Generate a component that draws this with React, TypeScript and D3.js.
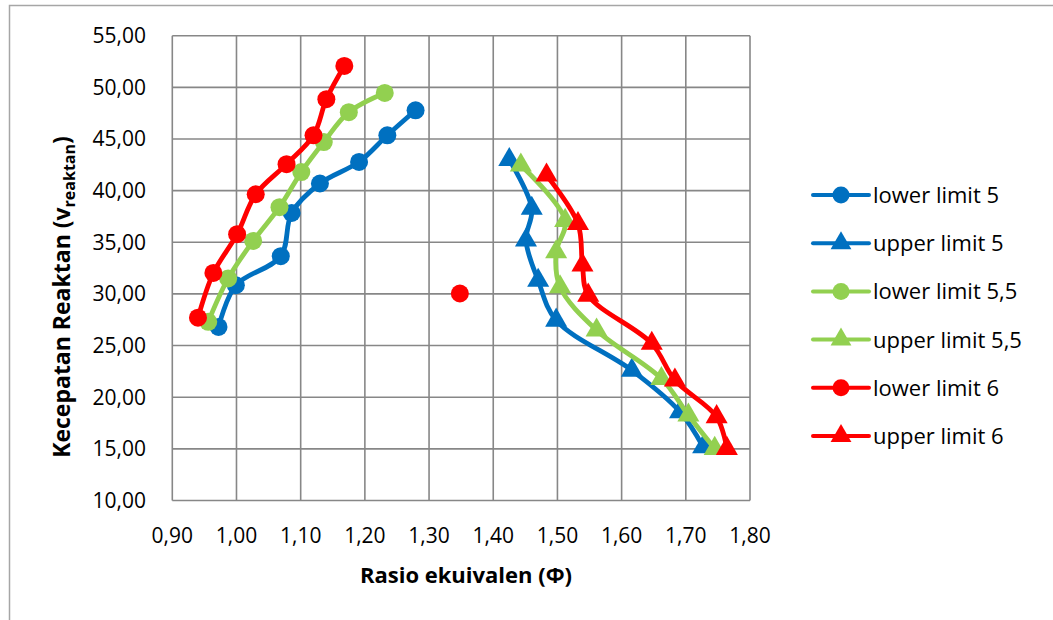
import React from "react";
import * as d3 from "d3";

// Rasio ekuivalen (phi) vs kecepatan reaktan
const lower5: [number, number][] = [
  [0.972, 26.8], [0.999, 30.84], [1.069, 33.65], [1.086, 37.84],
  [1.13, 40.69], [1.191, 42.78], [1.235, 45.36], [1.279, 47.78],
];
const upper5: [number, number][] = [
  [1.425, 43.0], [1.46, 38.27], [1.451, 35.2], [1.47, 31.3],
  [1.498, 27.45], [1.616, 22.6], [1.691, 18.58], [1.727, 15.19],
];
const lower55: [number, number][] = [
  [0.956, 27.3], [0.987, 31.5], [1.026, 35.13], [1.067, 38.4],
  [1.101, 41.8], [1.136, 44.7], [1.175, 47.6], [1.231, 49.46],
];
const upper55: [number, number][] = [
  [1.443, 42.46], [1.512, 37.1], [1.498, 34.07], [1.504, 30.68],
  [1.561, 26.49], [1.662, 21.8], [1.704, 18.26], [1.745, 15.03],
];
const lower6: [number, number][] = [
  [0.94, 27.7], [0.964, 32.03], [1.001, 35.78], [1.03, 39.65],
  [1.078, 42.56], [1.12, 45.36], [1.14, 48.85], [1.168, 52.07],
];
const upper6: [number, number][] = [
  [1.483, 41.5], [1.532, 36.8], [1.539, 32.78], [1.548, 29.87],
  [1.647, 25.2], [1.683, 21.65], [1.748, 18.1], [1.764, 15.03],
];
// lone point with no legend entry
const strayPoint: [number, number][] = [[1.348, 30.04]];

const seriesNames = [
  "lower limit 5", "upper limit 5",
  "lower limit 5,5", "upper limit 5,5",
  "lower limit 6", "upper limit 6",
];
const seriesData = [lower5, upper5, lower55, upper55, lower6, upper6];
const seriesColors = ["#0070C0", "#0070C0", "#92D050", "#92D050", "#FF0000", "#FF0000"];
const seriesShapes = ["circle", "triangle", "circle", "triangle", "circle", "triangle"];

const xTicks = [0.9, 1.0, 1.1, 1.2, 1.3, 1.4, 1.5, 1.6, 1.7, 1.8];
const yTicks = [10, 15, 20, 25, 30, 35, 40, 45, 50, 55];

const W = 1053;
const H = 620;
const FONT = "'Open Sans', sans-serif";
const GRID = "#878787";

const fmt = (v: number) => d3.format(".2f")(v).replace(".", ",");

function Marker({ shape, x, y, color, size }: { shape: string; x: number; y: number; color: string; size: number }) {
  if (shape === "circle") return <circle cx={x} cy={y} r={size} fill={color} />;
  const tri = d3.symbol().type(d3.symbolTriangle).size(size * size * 2.6)();
  return <path d={tri || ""} transform={`translate(${x},${y})`} fill={color} />;
}

const App = () => {
  const x = d3.scaleLinear().domain([0.9, 1.8]).range([172.3, 750]);
  const y = d3.scaleLinear().domain([10, 55]).range([500.5, 35.7]);

  const line = d3
    .line<[number, number]>()
    .x((d) => x(d[0]))
    .y((d) => y(d[1]))
    .curve(d3.curveCatmullRom.alpha(0.5));

  const legendY = d3.scaleLinear().domain([0, 5]).range([195, 436]);

  return (
    <svg width={W} height={H} style={{ position: "absolute", left: 0, top: 0, background: "#fff" }}>
      {/* chart area frame */}
      <rect x={9.5} y={5.5} width={W + 20} height={H + 20} fill="none" stroke="#a6a6a6" strokeWidth={1.5} />

      {/* grid */}
      <g stroke={GRID} strokeWidth={1.6}>
        {xTicks.map((t) => (
          <line key={"gx" + t} x1={x(t)} x2={x(t)} y1={y(55)} y2={y(10)} />
        ))}
        {yTicks.map((t) => (
          <line key={"gy" + t} x1={x(0.9)} x2={x(1.8)} y1={y(t)} y2={y(t)} />
        ))}
      </g>

      {/* tick labels */}
      <g fontFamily={FONT} fontSize={21} fill="#000">
        {yTicks.map((t) => (
          <text key={"ty" + t} x={146} y={y(t) + 7.5} textAnchor="end">
            {fmt(t)}
          </text>
        ))}
        {xTicks.map((t) => (
          <text key={"tx" + t} x={x(t)} y={543} textAnchor="middle">
            {fmt(t)}
          </text>
        ))}
      </g>

      {/* axis titles */}
      <text x={466} y={583} textAnchor="middle" fontFamily={FONT} fontWeight="bold" fontSize={22}>
        Rasio ekuivalen (Φ)
      </text>
      <text
        transform="translate(70,297) rotate(-90)"
        textAnchor="middle"
        fontFamily={FONT}
        fontWeight="bold"
        fontSize={23}
      >
        Kecepatan Reaktan (v
        <tspan fontSize={16} dy={5}>reaktan</tspan>
        <tspan dy={-5}>)</tspan>
      </text>

      {/* series */}
      {seriesData.map((data, i) => (
        <g key={seriesNames[i]}>
          <path d={line(data) || ""} fill="none" stroke={seriesColors[i]} strokeWidth={4.8} strokeLinejoin="round" />
          {data.map((d, j) => (
            <Marker key={j} shape={seriesShapes[i]} x={x(d[0])} y={y(d[1])} color={seriesColors[i]} size={9} />
          ))}
        </g>
      ))}
      {strayPoint.map((d, j) => (
        <circle key={"s" + j} cx={x(d[0])} cy={y(d[1])} r={9} fill="#FF0000" />
      ))}

      {/* legend */}
      <g fontFamily={FONT} fontSize={22}>
        {seriesNames.map((name, i) => (
          <g key={"lg" + name}>
            <line x1={813} x2={869} y1={legendY(i)} y2={legendY(i)} stroke={seriesColors[i]} strokeWidth={4} strokeLinecap="round" />
            <Marker shape={seriesShapes[i]} x={841} y={legendY(i)} color={seriesColors[i]} size={8.5} />
            <text x={873} y={legendY(i) + 8}>{name}</text>
          </g>
        ))}
      </g>
    </svg>
  );
};

export default App;
